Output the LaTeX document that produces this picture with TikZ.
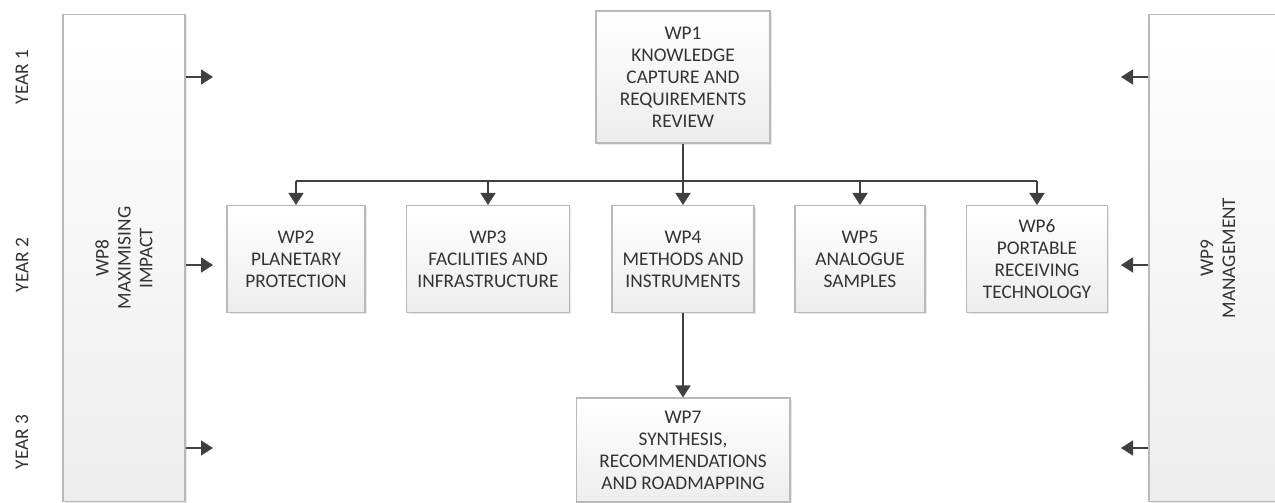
\documentclass[tikz,border=0pt]{standalone}
\usepackage{fontspec}
\setmainfont{Carlito}
\usetikzlibrary{arrows.meta,shadows}

\begin{document}
\begin{tikzpicture}[x=0.02cm, y=-0.02cm,
		wpfont/.style={text=black!80, font=\fontsize{11}{12.5}\selectfont},
		wpbox/.style={wpfont, draw=gray!55, line width=0.6pt, top color=white, bottom color=gray!14,
			align=center, inner sep=2pt,
			drop shadow={opacity=0.18, shadow xshift=0.04cm, shadow yshift=-0.04cm}},
		arr/.style={draw=black!75, line width=1pt, -{Triangle[width=0.3cm, length=0.24cm]}},
		yearlbl/.style={wpfont, rotate=90}]
	\useasboundingbox (0,0) rectangle (1275,503);

	% side work packages
	\node[wpbox, minimum width=2.44cm, minimum height=9.76cm] (wp8) at (124,258) {};
	\node[wpfont, rotate=90, align=center] (wp8t) at (wp8) {WP8\\MAXIMISING\\IMPACT};
	\node[wpbox, minimum width=2.64cm, minimum height=9.76cm] (wp9) at (1215,258) {};
	\node[wpfont, rotate=90, align=center] (wp9t) at (1218,258) {WP9\\MANAGEMENT};

	% years
	\node[yearlbl] (y1) at (22,77) {YEAR 1};
	\node[yearlbl] (y2) at (22,265) {YEAR 2};
	\node[yearlbl] (y3) at (22,442) {YEAR 3};

	% central work packages
	\node[wpbox, minimum width=3.48cm, minimum height=2.64cm] (wp1) at (683,77) {WP1\\KNOWLEDGE\\CAPTURE AND\\REQUIREMENTS\\REVIEW};
	\node[wpbox, minimum width=2.76cm, minimum height=2.14cm] (wp2) at (296,259) {WP2\\PLANETARY\\PROTECTION};
	\node[wpbox, minimum width=3.26cm, minimum height=2.14cm] (wp3) at (488,259) {WP3\\FACILITIES AND\\INFRASTRUCTURE};
	\node[wpbox, minimum width=2.84cm, minimum height=2.14cm] (wp4) at (683,259) {WP4\\METHODS AND\\INSTRUMENTS};
	\node[wpbox, minimum width=2.60cm, minimum height=2.14cm] (wp5) at (860,259) {WP5\\ANALOGUE\\SAMPLES};
	\node[wpbox, minimum width=2.82cm, minimum height=2.14cm] (wp6) at (1037,259) {WP6\\PORTABLE\\RECEIVING\\TECHNOLOGY};
	\node[wpbox, minimum width=4.28cm, minimum height=2.08cm] (wp7) at (683,450) {WP7\\SYNTHESIS,\\RECOMMENDATIONS\\AND ROADMAPPING};

	% distribution bar
	\coordinate (bar) at (683,181);
	\draw[draw=black!75, line width=1pt] (wp2.north |- bar) -- (wp6.north |- bar);
	\draw[arr] (wp1.south) -- (wp4.north);
	\foreach \w in {wp2,wp3,wp5,wp6}
		\draw[arr] (\w.north |- bar) -- (\w.north);
	\draw[arr] (wp4.south) -- (wp7.north);

	% arrows out of the side boxes
	\foreach \n/\y in {1/77,2/265,3/448} {
		\coordinate (l\n) at (213,\y);
		\coordinate (r\n) at (1121,\y);
		\draw[arr] (wp8.east |- l\n) -- (l\n);
		\draw[arr] (wp9.west |- r\n) -- (r\n);
	}
\end{tikzpicture}
\end{document}
